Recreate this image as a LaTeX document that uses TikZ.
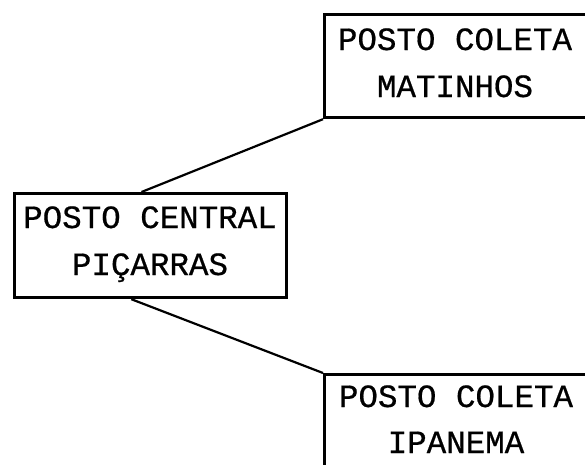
\documentclass[tikz,border=0pt]{standalone}
\usepackage{fontspec}
\newfontfamily\typewriter[FakeBold=0.6]{Liberation Mono}
\usetikzlibrary{calc}
\begin{document}
\begin{tikzpicture}[x=1pt,y=-1pt,
  stationbox/.style={draw=black, line width=3.2pt, rectangle, inner sep=0pt},
  stationtext/.style={anchor=base, inner sep=0pt, font=\typewriter\fontsize{32.5}{40}\selectfont},
  link/.style={draw=black, line width=2.2pt}]
  \clip (0,0) rectangle (585,464);
  % station boxes (the two collection posts run past the sheet edge)
  \node[stationbox, anchor=north west, minimum width=272pt, minimum height=104pt] (central) at (13,192) {};
  \node[stationbox, anchor=north west, minimum width=320pt, minimum height=103pt] (matinhos) at (323,13) {};
  \node[stationbox, anchor=north west, minimum width=320pt, minimum height=140pt] (ipanema) at (323,373) {};
  % labels
  \node[stationtext] (c1) at (150,228) {POSTO CENTRAL};
  \node[stationtext] (c2) at (150,275) {PIÇARRAS};
  \node[stationtext] (m1) at (455,50) {POSTO COLETA};
  \node[stationtext] (m2) at (455,97) {MATINHOS};
  \node[stationtext] (i1) at (456,407) {POSTO COLETA};
  \node[stationtext] (i2) at (456,453) {IPANEMA};
  % connections from the central post
  \draw[link] ($(central.north west)!0.467!(central.north east)$) -- (matinhos.south west);
  \draw[link] ($(central.south west)!0.43!(central.south east)$) -- (ipanema.north west);
\end{tikzpicture}
\end{document}
